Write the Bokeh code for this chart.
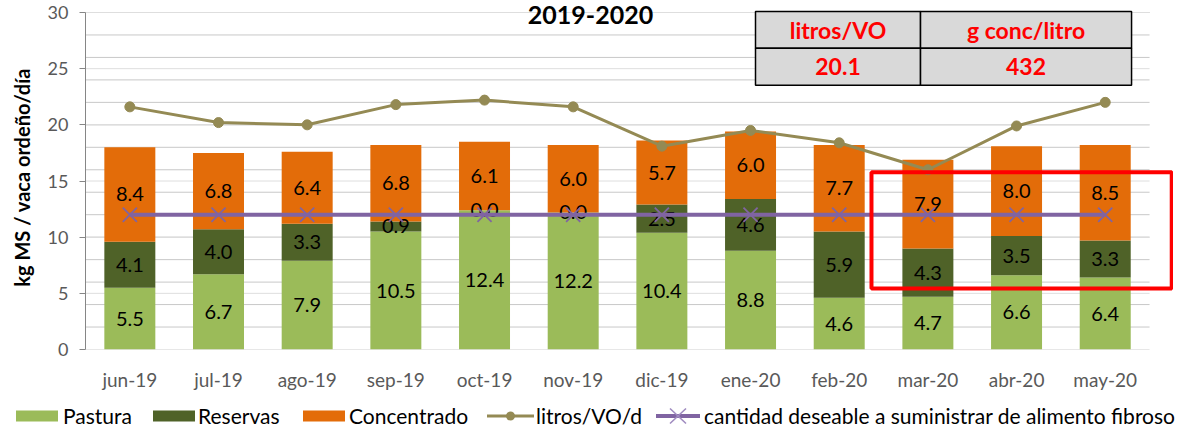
from bokeh.plotting import figure
from bokeh.layouts import column
from bokeh.models import (Range1d, FixedTicker, Label, ColumnDataSource, Div)
from bokeh.core.properties import value
from bokeh.embed import file_html
from bokeh.resources import INLINE

# ---------------- data ----------------
months = ["jun-19", "jul-19", "ago-19", "sep-19", "oct-19", "nov-19",
          "dic-19", "ene-20", "feb-20", "mar-20", "abr-20", "may-20"]
pastura = [5.5, 6.7, 7.9, 10.5, 12.4, 12.2, 10.4, 8.8, 4.6, 4.7, 6.6, 6.4]
reservas = [4.1, 4.0, 3.3, 0.9, 0.0, 0.0, 2.5, 4.6, 5.9, 4.3, 3.5, 3.3]
concentrado = [8.4, 6.8, 6.4, 6.8, 6.1, 6.0, 5.7, 6.0, 7.7, 7.9, 8.0, 8.5]
litros = [21.6, 20.2, 20.0, 21.8, 22.2, 21.6, 18.1, 19.5, 18.4, 16.0, 19.9, 22.0]
deseable = [12, 12, 12, 12, 12, 12, 12, 12, 12, 12, 12, 12]
series_names = ["Pastura", "Reservas", "Concentrado", "litros/VO/d",
                "cantidad deseable a suministrar de alimento fibroso"]
table_headers = ["litros/VO", "g conc/litro"]
table_values = ["20.1", "432"]
y_ticks = [0, 5, 10, 15, 20, 25, 30]
title_text = "2019-2020"
y_label = "kg MS /  vaca ordeño/día"

FONT = "Lato"
C_PAST = "#9bbb59"
C_RES = "#4f6228"
C_CONC = "#e36c09"
C_LIT = "#948a54"
C_DES = "#8064a2"

n = len(months)
xs = [i + 0.5 for i in range(n)]
y_top = 30 + 12 / (337 / 30)  # a little headroom above 30 for the title

p = figure(width=1173, height=404, output_backend="svg", toolbar_location=None,
           x_range=Range1d(0, 12.27), y_range=Range1d(0, y_top),
           min_border_left=85, min_border_right=0, min_border_top=0, min_border_bottom=55)
p.outline_line_color = None
p.xgrid.grid_line_color = None
p.ygrid.grid_line_color = None

# gridlines (two sets, as in the original)
g2 = [v for v in range(2, 31, 2)]
g5 = [v for v in range(5, 31, 5)]
p.segment(x0=[0] * len(g2), x1=[n] * len(g2), y0=g2, y1=g2, line_color="#c8c8c8", line_width=1, level="underlay")
p.segment(x0=[0] * len(g5), x1=[n] * len(g5), y0=g5, y1=g5, line_color="#dedede", line_width=1, level="underlay")
p.segment(x0=[0], x1=[n], y0=[0], y1=[0], line_color="#d0d0d0", line_width=1.2, level="underlay")

# stacked bars
src = ColumnDataSource(dict(x=xs, Pastura=pastura, Reservas=reservas, Concentrado=concentrado))
bars = p.vbar_stack(["Pastura", "Reservas", "Concentrado"], x="x", width=0.575, source=src,
                    color=[C_PAST, C_RES, C_CONC], line_color=None)

# value labels at segment centers
lab_x, lab_y, lab_t = [], [], []
for i in range(n):
    base = 0.0
    for arr in (pastura, reservas, concentrado):
        lab_x.append(xs[i])
        lab_y.append(base + arr[i] / 2.0)
        lab_t.append(f"{arr[i]:.1f}")
        base += arr[i]
p.text(x=lab_x, y=lab_y, text=lab_t, text_align="center", text_baseline="middle",
       text_font=value(FONT), text_font_size="20px", text_color="#000000")

# lines
l1 = p.line(xs, litros, line_color=C_LIT, line_width=3)
m1 = p.scatter(xs, litros, marker="circle", size=10, fill_color=C_LIT, line_color=C_LIT)
l2 = p.line(xs, deseable, line_color=C_DES, line_width=4)
m2 = p.scatter(xs, deseable, marker="x", size=20, line_color=C_DES, line_width=1.8)

# axes
xa = p.xaxis[0]
xa.ticker = FixedTicker(ticks=xs)
xa.major_label_overrides = {float(x): m for x, m in zip(xs, months)}
xa.axis_line_color = None
xa.major_tick_line_color = None
xa.major_tick_out = 0
xa.major_tick_in = 0
xa.minor_tick_line_color = None
xa.major_label_standoff = 18
xa.major_label_text_font = FONT
xa.major_label_text_font_size = "19px"
xa.major_label_text_color = "#595959"

ya = p.yaxis[0]
ya.ticker = FixedTicker(ticks=y_ticks)
ya.bounds = (0, 30)
ya.axis_line_color = "#868686"
ya.axis_line_width = 1
ya.major_tick_line_color = "#868686"
ya.major_tick_out = 6
ya.major_tick_in = 0
ya.minor_tick_line_color = None
ya.major_label_standoff = 11
ya.major_label_text_font = FONT
ya.major_label_text_font_size = "18px"
ya.major_label_text_color = "#595959"
ya.axis_label = y_label
ya.axis_label_text_font = FONT
ya.axis_label_text_font_size = "20px"
ya.axis_label_text_font_style = "bold"
ya.axis_label_text_color = "#000000"
ya.axis_label_standoff = 11

# title
p.add_layout(Label(x=5.695, y=29.82, text=title_text, text_align="center", text_baseline="middle",
                   text_font=FONT, text_font_size="25px", text_font_style="bold", text_color="#000000"))

# summary table
tx = [7.556, 9.417, 11.797]
ty = [30.09, 26.82, 23.52]
p.quad(left=[tx[0], tx[1], tx[0], tx[1]], right=[tx[1], tx[2], tx[1], tx[2]],
       top=[ty[0], ty[0], ty[1], ty[1]], bottom=[ty[1], ty[1], ty[2], ty[2]],
       fill_color="#d9d9d9", line_color="#000000", line_width=1.5)
cx = [(tx[0] + tx[1]) / 2, (tx[1] + tx[2]) / 2]
p.text(x=cx + cx, y=[(ty[0] + ty[1]) / 2] * 2 + [(ty[1] + ty[2]) / 2] * 2,
       text=table_headers + table_values, text_align="center", text_baseline="middle",
       text_font=value(FONT), text_font_size="23px", text_font_style="bold", text_color="#ff0000")

# red highlight rectangle
p.quad(left=[8.864], right=[12.25], top=[15.77], bottom=[5.44],
       fill_color=None, line_color="#ff0000", line_width=4)

# legend strip (HTML, real text)
icon_swatch = '<svg width="42" height="12" style="display:block"><rect x="0" y="0.5" width="42" height="11" fill="{c}"/></svg>'
icon_dot = ('<svg width="47" height="14" style="display:block"><line x1="0" y1="7" x2="47" y2="7" stroke="{c}" stroke-width="3"/>'
            '<circle cx="23.5" cy="7" r="4.5" fill="{c}"/></svg>')
icon_x = ('<svg width="44" height="18" style="display:block"><line x1="0" y1="9" x2="44" y2="9" stroke="{c}" stroke-width="4"/>'
          '<path d="M14 1.5 L30 16.5 M30 1.5 L14 16.5" stroke="#a08cc0" stroke-width="1.6"/></svg>')
icons = [icon_swatch.format(c=C_PAST), icon_swatch.format(c=C_RES), icon_swatch.format(c=C_CONC),
         icon_dot.format(c=C_LIT), icon_x.format(c=C_DES)]
icon_left = [16, 153, 303, 487, 656]
text_left = [63, 198, 349, 536, 704]
parts = []
for ic, il, tl, name in zip(icons, icon_left, text_left, series_names):
    parts.append(f'<div style="position:absolute;left:{il}px;top:50%;transform:translateY(-50%)">{ic}</div>')
    parts.append(f'<div style="position:absolute;left:{tl}px;top:0;line-height:24px;white-space:nowrap">{name}</div>')
html = (f'<div style="position:relative;width:1173px;height:24px;font-family:{FONT};'
        f'font-size:21px;color:#000000">' + "".join(parts) + '</div>')
lg = Div(text=html, width=1173, height=24, margin=(0, 0, 0, 0))

layout = column(p, lg, spacing=0)
open("out.html", "w").write(file_html(layout, INLINE))
